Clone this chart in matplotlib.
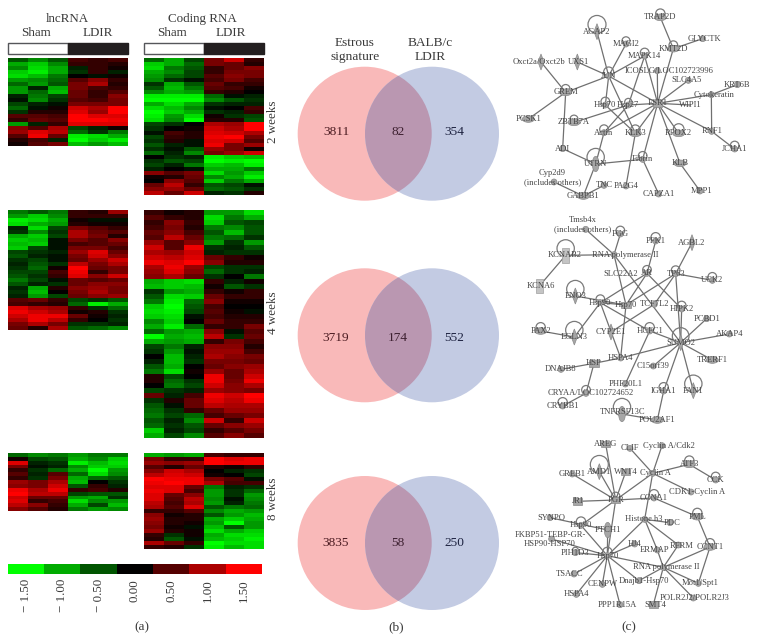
import numpy as np
import matplotlib
matplotlib.use("Agg")
import matplotlib.pyplot as plt
from matplotlib.colors import LinearSegmentedColormap
from matplotlib.patches import Circle, Ellipse, Polygon, Rectangle

plt.rcParams["font.family"] = ["Liberation Serif", "DejaVu Serif"]

W, H = 757, 641

# heatmaps: rows top to bottom, columns Sham x3, LDIR x3
lnc_2w = [
    [-.5, -.8, -.5, .4, .3, .4], [-1.0, -1.2, -.8, .3, .3, .2], [-.8, -1.3, -1.0, -.2, .3, .1],
    [-1.2, -1.4, -1.0, -.3, .3, -.2], [-1.3, -1.1, -.7, 0, -.1, .1], [-.9, -.8, -.6, .5, .8, .3],
    [-.6, -.9, -.5, .7, 1.0, .2], [-.9, -.2, -1.0, .7, .4, .3], [-.9, -.6, -1.1, .6, .3, .5],
    [-.2, -.7, -.4, .6, .3, .8], [-.1, -.8, -.3, .5, .4, .7], [-.4, -.2, -.1, .7, .7, .7],
    [-.6, -.1, .1, 1.2, 1.0, 1.5], [-.3, .2, .2, 1.3, .9, 1.5], [.5, .5, .4, 1.5, 1.3, 1.3],
    [.3, .6, .5, 1.5, 1.5, 1.4], [-.9, -.2, .3, 1.3, 1.3, 1.3], [.8, .5, 1.0, -.4, -.2, .1],
    [.9, 1.3, 1.1, -.6, -.3, -.7], [.5, 1.4, .6, -1.4, -1.3, -1.0], [.2, .4, -.2, -1.5, -1.2, -1.4],
    [.1, .5, .7, -1.1, -.9, -1.1],
]
coding_2w = [
    [-.6, -1.0, -.4, .7, 1.2, .3], [-1.2, -1.0, -.6, .7, .6, .2], [-1.3, -.7, -.5, .3, .6, .8],
    [-1.0, -.8, -.4, .3, .7, .7], [-.9, -.6, -.4, .5, .8, .7], [-.8, -.3, -.1, .4, .7, .4],
    [-.3, -1.0, -.5, .6, .3, .3], [-.5, -1.1, -.7, .5, .4, .1], [-.8, -1.0, -.9, .3, .2, 0],
    [-1.4, -1.4, -1.4, -.6, -.1, -.2], [-1.5, -1.5, -1.5, -.8, -.5, -.3], [-1.0, -1.3, -1.0, -.3, -.2, -.2],
    [-1.3, -1.1, -.8, -.1, 0, .4], [-1.5, -1.2, -1.0, -.3, -.2, .3], [-1.4, -.9, -1.3, .1, -.3, -.4],
    [-1.3, -.8, -1.5, .2, .2, -.5], [-.4, -.3, 0, 1.0, .9, 1.5], [-.3, 0, .1, 1.2, 1.0, 1.5],
    [-.1, .4, .2, 1.3, 1.2, 1.0], [-.4, .3, .2, 1.4, 1.5, .7], [-.3, .2, -.1, 1.3, 1.2, .5],
    [-.5, -.2, -.1, 1.4, .7, .9], [-.3, -.1, -.5, .9, .7, .1], [-.6, -.2, -.8, .7, .9, 1.2],
    [0, -.3, -.2, -1.4, -1.2, -1.1], [-.3, -.5, -.4, -1.5, -1.4, -1.5], [-.4, -.2, -.7, -1.2, -1.1, -1.4],
    [-.2, 0, -.1, -1.0, -1.0, -.7], [.8, .5, .7, -1.3, -.9, -1.2], [.1, .2, .6, -.8, -1.0, -1.4],
    [0, .8, .5, -1.2, -.7, -1.0], [.6, 1.1, .3, -.5, -.4, -.1], [.8, .9, .6, -.6, -.5, -.3],
    [1.1, .6, 1.2, -.2, -.3, .2],
]
lnc_4w = [
    [-.7, -.5, -.7, .3, .2, .9], [-.9, -1.2, -.8, .3, .3, .3], [-1.4, -1.3, -1.0, .1, -.1, -.1],
    [-1.3, -1.0, -.9, .2, .1, .1], [-.2, -1.3, -.4, .7, .5, .3], [-.3, -.8, -.3, 1.0, .6, .5],
    [-1.0, -1.2, -.4, 1.0, .7, .2], [-1.2, -1.1, -.1, .7, .5, .8], [-1.1, -1.2, -.1, .4, .5, .6],
    [-1.2, -.4, -.1, .7, .7, .4], [-.4, -.3, -.2, .9, 1.3, .6], [-.5, -.2, -.1, .7, 1.2, .8],
    [-.3, -.4, -.1, .6, .9, 1.2], [-.2, -.5, -.3, 1.1, .7, 1.0], [-.3, -.6, .1, 1.5, .6, .7],
    [-.4, -.4, .4, 1.4, .3, .7], [-.5, -.3, .3, 1.3, .8, 1.2], [-.7, -.4, -.1, .6, .5, .6],
    [-.5, -.2, -.3, .6, .8, .8], [-.2, -1.0, .2, .8, .9, .7], [-.3, -1.1, 0, .7, 1.0, .7],
    [-.2, -.9, -.4, .6, .8, .9], [.5, .6, .3, -.4, -.3, -.5], [.4, .3, .2, -.6, -1.4, -1.0],
    [1.3, 1.0, .9, .3, -.3, -.6], [1.4, 1.2, 1.0, .1, .2, -.3], [1.2, 1.4, 1.4, .6, .1, -.2],
    [1.0, 1.4, 1.1, .3, 0, -.3], [.7, 1.0, .7, -.3, -.3, -.2], [.6, .2, 1.0, -.5, -.6, -.8],
]
coding_4w = [
    [.3, .1, .2, -.9, -.9, -1.3], [.5, .3, .2, -1.3, -.7, -1.0], [.3, .8, .3, -1.2, -.5, -.4],
    [.4, .7, .2, -.7, -.8, -.5], [.6, .8, .4, -.5, -1.1, -.5], [.5, 1.1, .6, -.7, -.6, -.3],
    [.9, .5, .8, -.9, -.3, -.9], [1.2, .5, 1.4, -.3, -.2, -.5], [1.0, .9, 1.2, -.2, -.3, -.3],
    [1.2, 1.1, 1.3, .6, .3, .1], [1.4, 1.3, 1.5, .8, .2, .2], [1.0, 1.4, .9, -.4, -.3, -.3],
    [.9, 1.3, .8, -.6, -.3, -.2], [.8, 1.0, .6, -.3, 0, -.7], [-1.0, -1.2, -1.3, .3, -.2, .1],
    [-1.1, -1.2, -1.1, .1, -.5, -.3], [-.3, -.9, -1.0, .3, .1, .3], [-.5, -1.3, -1.2, .6, .3, .3],
    [-.7, -1.4, -.6, .8, .1, .1], [-1.2, -1.5, -.5, .4, 0, 0], [-1.3, -1.4, -.4, .5, .1, -.1],
    [-1.2, -1.3, -.1, .4, .2, .2], [-.8, -1.2, 0, .6, .3, .3], [-1.0, -1.4, -.6, .3, .3, .7],
    [-.6, -.9, -1.0, .8, -.1, .5], [-1.5, -1.0, -1.1, 1.1, -.3, .6], [-1.0, -.9, -1.0, .3, .7, .4],
    [-.4, -.7, -.2, .8, .8, .2], [-.3, -.9, -.1, .9, .9, .4], [0, -1.1, -.2, 1.0, .8, .7],
    [-.2, -1.1, -.3, .7, .7, .6], [-.5, -1.0, 0, .6, .8, .9], [-.7, -1.3, .1, .9, .6, 1.0],
    [.2, -.4, 0, 1.4, .6, 1.2], [.2, -.6, -.3, 1.4, .7, 1.4], [0, -.7, -.4, 1.2, .8, 1.0],
    [-.4, -.3, -.2, .9, .8, .7], [.6, -.2, .4, 1.4, 1.2, 1.5], [-.3, .2, .6, 1.3, 1.1, 1.4],
    [-.5, -.1, .6, 1.1, 1.0, 1.0], [-.6, -.3, .3, .6, .9, .9], [-.7, -.4, -.6, .4, .6, .7],
    [-.5, -.2, -.8, 1.2, .3, 1.2], [-.6, -.3, -.5, .6, .8, .9], [-1.2, -.2, -.4, .3, .5, .7],
    [-1.0, -.4, -.8, .5, .8, .5],
]
lnc_8w = [
    [-.6, -.8, -.7, -.9, -.7, -.7], [.1, -.4, -.5, -1.0, -.8, -1.2], [1.3, -.2, -.3, -1.4, -1.1, -1.3],
    [.7, -.1, -.2, -.8, -1.2, -1.2], [.3, -.3, -.6, -1.0, -1.5, -.9], [.5, -.2, .5, -.6, -1.3, -.8],
    [.3, -.3, .7, -1.0, -.6, -.5], [.9, .7, 1.0, -1.1, 0, -.3], [.8, .7, 1.2, -.5, .3, -.2],
    [1.4, 1.0, 1.4, .3, .4, .2], [1.5, 1.1, 1.1, -.4, -.5, -.5], [1.2, .6, .6, -.9, -1.0, -.3],
    [1.3, .3, .4, -1.3, -.8, -.9], [1.1, .8, .3, -1.0, -.4, -1.1], [.8, .5, .2, -.7, -.9, -.8],
]
coding_8w = [
    [-1.0, -.9, -1.0, .4, .3, .3], [.7, .3, .3, 1.5, 1.3, 1.4], [.9, .8, .9, 1.5, 1.4, 1.4],
    [.5, .2, .6, .2, .1, .3], [.8, 1.2, 1.0, 0, -.2, -.3], [1.1, 1.3, 1.2, .1, 0, -.4],
    [1.5, 1.4, 1.4, .7, .5, -.1], [1.4, 1.5, 1.4, 1.0, .4, .4], [1.3, 1.3, .6, -.7, -.2, -.3],
    [1.4, 1.3, .4, -.9, -.3, -.6], [1.3, .6, .8, -.9, -.3, -.9], [1.3, .5, 1.1, -.8, -.1, -.8],
    [1.1, .4, 1.0, -.9, -.2, -.7], [1.0, .5, 1.3, -.5, -.7, -.6], [.3, .3, .5, -.8, -1.0, -.9],
    [.8, .1, .2, -.5, -.9, -1.1], [.9, .2, .2, -1.0, -1.2, -1.0], [.8, .2, .1, -.9, -1.5, -.9],
    [.7, .1, -.1, -1.1, -.5, -.9], [.9, .2, .1, -1.3, -1.0, -1.2], [.3, -.3, .1, -1.0, -1.3, -1.3],
    [.2, -.5, -.1, -1.1, -1.2, -1.4], [1.0, .6, .3, -1.5, -1.3, -1.3], [.3, .2, -.3, -1.4, -1.1, -1.3],
]
scale_values = [-1.5, -1.0, -0.5, 0.0, 0.5, 1.0, 1.5]
scale_labels = ["\u2212 1.50", "\u2212 1.00", "\u2212 0.50", "0.00", "0.50", "1.00", "1.50"]

# venn counts per time point: only estrous, both, only BALB/c
venn_left = [3811, 3719, 3835]
venn_both = [82, 174, 58]
venn_right = [354, 552, 250]

# networks: name, x, y, shape, self loop radius (read at 3x of each crop)
# shapes: e ellipse, v tall ellipse, d diamond, s box, r tall box, c dot, n none
net1_nodes = [
    ("AGAP2", 291, 95, "d", 27), ("TRAP2D", 481, 52, "e", 14), ("MAGI2", 378, 132, "c", 12),
    ("KMT2D", 520, 146, "e", 13), ("GLYCTK", 608, 116, "c", 0), ("MAPK14", 434, 168, "c", 13),
    ("Oxct2a/Oxct2b", 123, 186, "d", 0), ("UXS1", 232, 186, "d", 0), ("JUN", 326, 228, "c", 15),
    ("ICOSLG/LOC102723996", 472, 212, "c", 0), ("SLC4A5", 565, 241, "c", 0), ("KRT6B", 712, 254, "c", 0),
    ("Cytokeratin", 634, 284, "c", 0), ("GREM", 197, 277, "e", 13), ("ESR1", 473, 310, "s", 0),
    ("Hsp70", 316, 315, "c", 13), ("Hsp27", 385, 315, "c", 11), ("WIPI1", 571, 315, "n", 0),
    ("PCSK1", 85, 357, "e", 0), ("ZBTB7A", 222, 367, "e", 12), ("RNF1", 635, 394, "c", 0),
    ("Actin", 312, 398, "c", 13), ("KLK3", 406, 400, "e", 14), ("RFOX2", 536, 400, "e", 16),
    ("JCHA1", 704, 447, "c", 13), ("ADI", 188, 446, "c", 0), ("UTRN", 287, 492, "v", 26),
    ("Fibrin", 428, 478, "c", 13), ("KLB", 540, 490, "e", 0), ("Cyp2d9\n(includes others)", 162, 546, "c", 0),
    ("TNC", 312, 556, "c", 0), ("PA2G4", 378, 558, "c", 0), ("GABPB1", 250, 588, "e", 0),
    ("CAPZA1", 476, 582, "c", 0), ("MPP1", 600, 573, "c", 0),
]
net1_labels = {"Oxct2a/Oxct2b": (118, 186), "UXS1": (236, 186), "ICOSLG/LOC102723996": (507, 212),
               "SLC4A5": (559, 241), "Cytokeratin": (641, 284), "Cyp2d9\n(includes others)": (157, 532),
               "GLYCTK": (613, 116), "MPP1": (604, 573)}
net1_edges = [
    ("AGAP2", "JUN"), ("MAGI2", "JUN"), ("MAPK14", "JUN"), ("UXS1", "JUN"), ("GREM", "JUN"), ("JUN", "ESR1"),
    ("JUN", "Hsp70"), ("JUN", "KLK3"), ("Oxct2a/Oxct2b", "GREM"), ("GREM", "PCSK1"), ("GREM", "ADI"),
    ("ZBTB7A", "Hsp27"), ("Hsp70", "KLK3"), ("Hsp27", "MAPK14"), ("Hsp27", "Actin"), ("ESR1", "Actin"),
    ("TRAP2D", "KMT2D"), ("KMT2D", "ESR1"), ("GLYCTK", "KMT2D"), ("MAPK14", "ESR1"),
    ("ICOSLG/LOC102723996", "ESR1"), ("SLC4A5", "ESR1"), ("ESR1", "Cytokeratin"), ("ESR1", "WIPI1"),
    ("ESR1", "RNF1"), ("RNF1", "JCHA1"), ("Cytokeratin", "RNF1"), ("KRT6B", "Cytokeratin"), ("ESR1", "RFOX2"),
    ("ESR1", "KLB"), ("KLB", "MPP1"), ("ESR1", "Fibrin"), ("ESR1", "KLK3"), ("Fibrin", "UTRN"),
    ("Fibrin", "CAPZA1"), ("KLK3", "PA2G4"), ("Actin", "UTRN"), ("ADI", "UTRN"), ("UTRN", "GABPB1"),
    ("GABPB1", "TNC"), ("GABPB1", "Cyp2d9\n(includes others)"), ("ESR1", "Hsp27"),
]

net2_nodes = [
    ("Tmsb4x\n(includes others)", 257, 58, "c", 0), ("FGG", 361, 72, "c", 13), ("PFK1", 467, 93, "c", 14),
    ("AGBL2", 576, 98, "d", 0), ("KCNAB2", 197, 136, "r", 26), ("RNA polymerase II", 342, 134, "c", 0),
    ("SLC22A2", 370, 192, "n", 0), ("AR", 441, 190, "c", 13), ("TP63", 527, 191, "c", 13),
    ("UCK2", 637, 211, "c", 13), ("KCNA6", 118, 228, "r", 0), ("ENO3", 226, 258, "d", 26),
    ("Hsp90", 301, 278, "c", 13), ("Hsp70", 378, 285, "s", 0), ("TCF7L2", 463, 283, "c", 0),
    ("HIPK2", 545, 297, "c", 13), ("PCBD1", 620, 326, "c", 0), ("PAX2", 122, 363, "e", 14),
    ("EGLN3", 223, 381, "d", 26), ("CYP2E1", 333, 366, "d", 0), ("HCFC1", 449, 363, "c", 14),
    ("AKAP4", 688, 372, "c", 0), ("SUMO2", 542, 398, "d", 25), ("TRERF1", 637, 450, "e", 0),
    ("HSPA4", 362, 444, "c", 0), ("C15orf39", 460, 468, "c", 0), ("HSP", 282, 460, "s", 0),
    ("DNAJB8", 183, 478, "c", 0), ("PHF20L1", 376, 522, "c", 0), ("CRYAA/LOC102724652", 258, 550, "c", 13),
    ("CRYBB1", 188, 588, "c", 14), ("IGHA1", 491, 543, "c", 14), ("FAN1", 580, 542, "d", 26),
    ("TNFRSF13C", 366, 612, "v", 26), ("POU2AF1", 472, 630, "e", 0),
]
net2_labels = {"Tmsb4x\n(includes others)": (247, 44), "RNA polymerase II": (375, 134),
               "SLC22A2": (362, 192), "CRYAA/LOC102724652": (271, 550), "TNFRSF13C": (368, 606),
               "KCNAB2": (195, 136), "KCNA6": (122, 228), "Hsp70": (378, 285)}
net2_edges = [
    ("Tmsb4x\n(includes others)", "RNA polymerase II"), ("RNA polymerase II", "FGG"),
    ("RNA polymerase II", "KCNAB2"), ("KCNAB2", "KCNA6"), ("RNA polymerase II", "Hsp70"),
    ("RNA polymerase II", "SUMO2"), ("PFK1", "AR"), ("AR", "Hsp70"), ("AR", "Hsp90"), ("AR", "HIPK2"),
    ("AGBL2", "TP63"), ("TP63", "UCK2"), ("TP63", "Hsp70"), ("TP63", "SUMO2"), ("TP63", "TCF7L2"),
    ("TCF7L2", "CYP2E1"), ("ENO3", "Hsp70"), ("Hsp90", "EGLN3"), ("Hsp90", "HSPA4"), ("Hsp90", "HCFC1"),
    ("Hsp90", "Hsp70"), ("Hsp70", "HSPA4"), ("PAX2", "EGLN3"), ("HIPK2", "SUMO2"), ("PCBD1", "SUMO2"),
    ("AKAP4", "SUMO2"), ("TRERF1", "SUMO2"), ("C15orf39", "SUMO2"), ("HCFC1", "SUMO2"), ("HCFC1", "PHF20L1"),
    ("SUMO2", "HSPA4"), ("SUMO2", "IGHA1"), ("SUMO2", "FAN1"), ("IGHA1", "POU2AF1"),
    ("TNFRSF13C", "POU2AF1"), ("HSPA4", "HSP"), ("HSP", "DNAJB8"), ("HSP", "CRYAA/LOC102724652"),
    ("CRYAA/LOC102724652", "CRYBB1"),
]

net3_nodes = [
    ("AREG", 317, 42, "s", 0), ("CLIF", 390, 55, "c", 0), ("Cyclin A/Cdk2", 486, 47, "c", 0),
    ("ATF3", 568, 103, "e", 14), ("AMD1", 298, 125, "d", 27), ("WNT4", 377, 126, "s", 0),
    ("GREB1", 217, 132, "c", 0), ("Cyclin A", 458, 130, "c", 0), ("CCK", 647, 150, "c", 13),
    ("CDK1-Cyclin A", 573, 186, "c", 0), ("CCNA1", 462, 204, "c", 14), ("PGR", 347, 210, "s", 13),
    ("JRI", 233, 214, "s", 0), ("PML", 592, 260, "e", 14), ("Histone h3", 434, 268, "c", 0),
    ("PDC", 510, 278, "c", 0), ("SYNPO", 150, 263, "c", 0), ("Hsp90", 243, 286, "c", 14),
    ("PTCH1", 323, 300, "v", 0), ("FKBP51-TEBP-GR-\nHSP90-HSP70", 155, 327, "c", 0), ("HJ4", 404, 342, "c", 0),
    ("PIH1D3", 226, 368, "c", 9), ("ERMAP", 472, 360, "c", 0), ("RFRM", 535, 345, "c", 0),
    ("CCNT1", 630, 351, "e", 14), ("Hsp70", 322, 377, "c", 14), ("RNA polymerase II", 490, 412, "c", 0),
    ("TSACC", 222, 432, "c", 0), ("Dnajb1-Hsp70", 417, 452, "c", 0), ("CENPW", 307, 463, "c", 0),
    ("Mot1/Spt1", 595, 460, "c", 0), ("HSPA4", 229, 493, "c", 0), ("POLR2J2/POLR2J3", 580, 504, "c", 0),
    ("PPP1R15A", 360, 524, "c", 0), ("SMT4", 460, 524, "s", 0),
]
net3_labels = {"CLIF": (390, 55), "Cyclin A/Cdk2": (506, 47), "Cyclin A": (465, 130),
               "CDK1-Cyclin A": (590, 186), "Histone h3": (430, 268), "PDC": (517, 280), "SYNPO": (155, 263),
               "FKBP51-TEBP-GR-\nHSP90-HSP70": (150, 329), "ERMAP": (465, 360), "RFRM": (546, 348),
               "RNA polymerase II": (498, 412), "TSACC": (210, 432), "Dnajb1-Hsp70": (432, 452),
               "Mot1/Spt1": (600, 460), "POLR2J2/POLR2J3": (584, 504), "PPP1R15A": (352, 524),
               "SMT4": (467, 524), "Hsp70": (325, 377)}
net3_edges = [
    ("AREG", "PGR"), ("AMD1", "PGR"), ("WNT4", "PGR"), ("GREB1", "PGR"), ("JRI", "PGR"), ("Hsp90", "PGR"),
    ("PGR", "Hsp70"), ("PGR", "CCNA1"), ("PGR", "Cyclin A"), ("CLIF", "Cyclin A"), ("Cyclin A/Cdk2", "Cyclin A"),
    ("ATF3", "Cyclin A"), ("ATF3", "CCK"), ("Cyclin A", "CDK1-Cyclin A"), ("Cyclin A", "Histone h3"),
    ("CCNA1", "PML"), ("PML", "CCNT1"), ("CCNT1", "RNA polymerase II"), ("CCNT1", "Mot1/Spt1"),
    ("Histone h3", "Hsp70"), ("Histone h3", "PDC"), ("Histone h3", "ERMAP"), ("Histone h3", "RFRM"),
    ("ERMAP", "RNA polymerase II"), ("RFRM", "RNA polymerase II"), ("RNA polymerase II", "Hsp70"),
    ("RNA polymerase II", "Dnajb1-Hsp70"), ("RNA polymerase II", "POLR2J2/POLR2J3"),
    ("RNA polymerase II", "SMT4"), ("RNA polymerase II", "Mot1/Spt1"), ("Hsp70", "Dnajb1-Hsp70"),
    ("SYNPO", "PTCH1"), ("Hsp90", "Hsp70"), ("FKBP51-TEBP-GR-\nHSP90-HSP70", "Hsp70"), ("Hsp70", "HJ4"),
    ("Hsp70", "PTCH1"), ("Hsp70", "PIH1D3"), ("Hsp70", "TSACC"), ("Hsp70", "HSPA4"), ("Hsp70", "CENPW"),
    ("Hsp70", "PPP1R15A"),
]

INK = "#3a3a3a"
red_green = LinearSegmentedColormap.from_list("rg", ["#00ff00", "#000000", "#ff0000"])


def pixel_axes(fig, x0, y0, w, h, scale=1):
    # axes placed in picture pixels, y running down
    ax = fig.add_axes([x0 / W, 1 - (y0 + h) / H, w / W, h / H])
    ax.set_xlim(0, w * scale)
    ax.set_ylim(h * scale, 0)
    ax.axis("off")
    return ax


def heatmap(ax, rows, x0, x1, y0, y1):
    ax.imshow(np.array(rows), cmap=red_green, vmin=-1.5, vmax=1.5, aspect="auto",
              interpolation="nearest", extent=(x0, x1, y1, y0), zorder=1)


def group_bar(ax, x0, x1):
    mid = (x0 + x1) / 2
    ax.add_patch(Rectangle((x0, 43), mid - x0, 11, fc="white", ec="#55565a", lw=1))
    ax.add_patch(Rectangle((mid, 43), x1 - mid, 11, fc="#231f20", ec="#231f20", lw=1))


def venn(ax, cy, text_y, left, both, right):
    a = Circle((364.7, cy), 67, fc="#f9b9b9", ec="none", zorder=2)
    b = Circle((432, cy), 67, fc="#c3cbe3", ec="none", zorder=2)
    lens = Circle((364.7, cy), 67, fc="#ba97b1", ec="none", zorder=3)
    for p in (a, b, lens):
        ax.add_patch(p)
    lens.set_clip_path(Circle((432, cy), 67, transform=ax.transData))
    for x, val, col in ((336, left, "#4a1a20"), (398, both, "#3d2030"), (454, right, "#1d2240")):
        ax.text(x, text_y, str(val), ha="center", va="center", fontsize=9.6, color=col, zorder=4)


def network(ax, nodes, labels, edges):
    pos = {n[0]: (n[1], n[2]) for n in nodes}
    for a, b in edges:
        ax.plot([pos[a][0], pos[b][0]], [pos[a][1], pos[b][1]], color="#707070", lw=0.9, zorder=1)
    for name, x, y, shape, r in nodes:
        if r:
            ax.add_patch(Circle((x, y - 0.8 * r), r, fc="none", ec="#7a7a7a", lw=0.9, zorder=2))
        style = dict(fc="#a6a6a6", ec="#8a8a8a", lw=0.5, zorder=3)
        if shape == "e":
            ax.add_patch(Ellipse((x, y), 36, 20, **style))
        elif shape == "v":
            ax.add_patch(Ellipse((x, y), 20, 46, **style))
        elif shape == "c":
            ax.add_patch(Ellipse((x, y), 18, 18, **style))
        elif shape == "d":
            ax.add_patch(Polygon([(x - 9, y), (x, y - 24), (x + 9, y), (x, y + 24)], **style))
        elif shape == "s":
            ax.add_patch(Rectangle((x - 14, y - 10), 28, 20, **style))
        elif shape == "r":
            ax.add_patch(Rectangle((x - 11, y - 22), 22, 44, fc="#c4c4c4", ec="#a0a0a0", lw=0.5, zorder=3))
        lx, ly = labels.get(name, (x, y))
        ax.text(lx, ly, name, ha="center", va="center", fontsize=6.1, color="#444444", zorder=4, linespacing=1.25)


fig = plt.figure(figsize=(W / 100, H / 100), dpi=100)
ax = pixel_axes(fig, 0, 0, W, H)

# panel a
heatmap(ax, lnc_2w, 8, 128, 58, 146)
heatmap(ax, coding_2w, 144, 264, 58, 195)
heatmap(ax, lnc_4w, 8, 128, 210, 330)
heatmap(ax, coding_4w, 144, 264, 210, 438)
heatmap(ax, lnc_8w, 8, 128, 453, 511)
heatmap(ax, coding_8w, 144, 264, 453, 549)
group_bar(ax, 8, 128)
group_bar(ax, 144, 264)

for x, y, s in ((67, 19, "lncRNA"), (202, 19, "Coding RNA"), (36, 33, "Sham"), (98, 33, "LDIR"),
                (172, 33, "Sham"), (231, 33, "LDIR")):
    ax.text(x, y, s, ha="center", va="center", fontsize=9.4, color=INK)
for y, s in ((122, "2 weeks"), (313, "4 weeks"), (499, "8 weeks")):
    ax.text(273, y, s, ha="center", va="center", rotation=90, fontsize=9.4, color=INK)

ax.imshow(np.array([scale_values]), cmap=red_green, vmin=-1.5, vmax=1.5, aspect="auto",
          interpolation="nearest", extent=(8, 262, 574, 564))
step = (262 - 8) / len(scale_values)
for i, s in enumerate(scale_labels):
    ax.text(8 + step * (i + 0.5), 579, s, ha="center", va="top", rotation=90, fontsize=9.4, color=INK)

# panel b
for x, y, s in ((355, 43, "Estrous"), (355, 57, "signature"), (430, 43, "BALB/c"), (430, 57, "LDIR")):
    ax.text(x, y, s, ha="center", va="center", fontsize=9.6, color=INK)
for cy, ty, a, b, c in zip((133.7, 335.3, 543), (131.7, 338, 543), venn_left, venn_both, venn_right):
    venn(ax, cy, ty, a, b, c)

for x, s in ((142, "(a)"), (396, "(b)"), (629, "(c)")):
    ax.text(x, 627, s, ha="center", va="center", fontsize=9.6, color=INK)
ax.set_xlim(0, W)
ax.set_ylim(H, 0)

# panel c
network(pixel_axes(fig, 500, 0, 257, 215, 3), net1_nodes, net1_labels, net1_edges)
network(pixel_axes(fig, 500, 210, 257, 220, 3), net2_nodes, net2_labels, net2_edges)
network(pixel_axes(fig, 500, 430, 257, 185, 3), net3_nodes, net3_labels, net3_edges)

fig.savefig("out.png", dpi=100)
